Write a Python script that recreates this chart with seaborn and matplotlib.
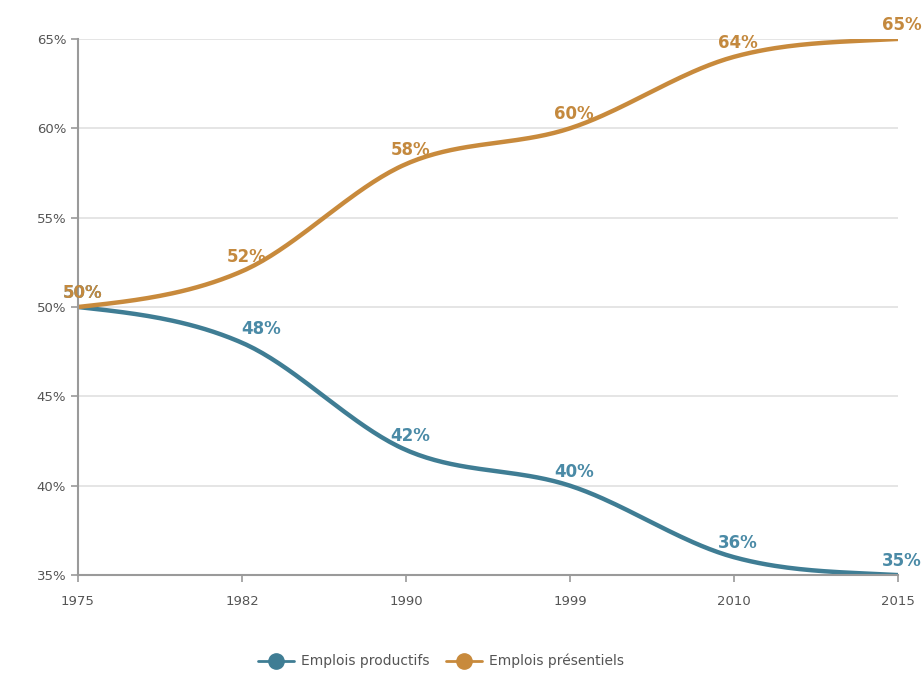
import numpy as np
import pandas as pd
import matplotlib.pyplot as plt
from matplotlib.lines import Line2D
import seaborn as sns

years = ['1975', '1982', '1990', '1999', '2010', '2015']
productifs = [50, 48, 42, 40, 36, 35]
presentiels = [50, 52, 58, 60, 64, 65]

blue = '#3f7d94'
orange = '#c88a3c'
blue_txt = '#4a8aa6'
orange_txt = '#c4893e'


def smooth(y, n=40):
    # Catmull-Rom style smoothing between category positions
    y = np.asarray(y, dtype=float)
    x = np.arange(len(y))
    m = np.gradient(y)
    m[0] = (y[1] - y[0]) / 2
    m[-1] = (y[-1] - y[-2]) / 2
    xs, ys = [], []
    for i in range(len(y) - 1):
        t = np.linspace(0, 1, n, endpoint=False)
        h00 = 2 * t**3 - 3 * t**2 + 1
        h10 = t**3 - 2 * t**2 + t
        h01 = -2 * t**3 + 3 * t**2
        h11 = t**3 - t**2
        xs.append(x[i] + t)
        ys.append(h00 * y[i] + h10 * m[i] + h01 * y[i + 1] + h11 * m[i + 1])
    xs.append([x[-1]])
    ys.append([y[-1]])
    return np.concatenate(xs), np.concatenate(ys)


sns.set_theme(style="white")
plt.rcParams['font.family'] = ['DejaVu Sans']

fig = plt.figure(figsize=(9.23, 6.83), dpi=100)
ax = fig.add_axes([0.0845, 0.158, 0.8885, 0.785])

for vals, col in [(productifs, blue), (presentiels, orange)]:
    xs, ys = smooth(vals)
    sns.lineplot(x=xs, y=ys, ax=ax, color=col, linewidth=3.2, sort=False)

for vals, col in [(productifs, blue_txt), (presentiels, orange_txt)]:
    for i, v in enumerate(vals):
        dx = 14 if (col == blue_txt and i == 1) else 3
        ax.annotate(f'{v}%', (i, v), xytext=(dx, 10), textcoords='offset points',
                    ha='center', va='center', fontsize=12, color=col, fontweight='bold')

ax.set_xlim(0, len(years) - 1)
ax.set_ylim(35, 65)
ax.set_xticks(range(len(years)))
ax.set_xticklabels(years)
ax.set_yticks(range(35, 66, 5))
ax.set_yticklabels([f'{t}%' for t in range(35, 66, 5)])
ax.yaxis.grid(True, color='#e0e0e0', linewidth=1.2)
ax.set_axisbelow(True)

for s in ['top', 'right']:
    ax.spines[s].set_visible(False)
for s in ['left', 'bottom']:
    ax.spines[s].set_color('#9a9a9a')
    ax.spines[s].set_linewidth(1.5)
ax.tick_params(axis='both', which='both', length=5, width=1.2, color='#9a9a9a',
               labelsize=9.5, labelcolor='#555555', direction='out',
               left=True, bottom=True)
ax.tick_params(axis='x', pad=9)
ax.set_xlabel('')
ax.set_ylabel('')

handles = [
    Line2D([0], [0], color=blue, lw=2, marker='o', markersize=11, markerfacecolor=blue, markeredgecolor=blue),
    Line2D([0], [0], color=orange, lw=2, marker='o', markersize=11, markerfacecolor=orange, markeredgecolor=orange),
]
fig.legend(handles, ['Emplois productifs', 'Emplois présentiels'], loc='center',
           bbox_to_anchor=(0.478, 0.032), ncol=2, frameon=False, fontsize=10,
           labelcolor='#555555', handlelength=2.6, columnspacing=1.2, handletextpad=0.5)

plt.savefig('out.png', dpi=100)
plt.close()
